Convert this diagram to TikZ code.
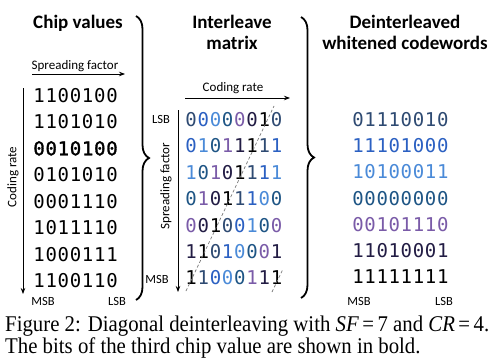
\documentclass[tikz,border=0pt]{standalone}
\usepackage{fontspec}
\setmainfont{Carlito}
\newfontfamily\capfont{Liberation Serif}
\newfontfamily\bitfont{DejaVu Sans Mono}
\newfontfamily\bitfontbold[FakeBold=1.6]{DejaVu Sans Mono}
\usetikzlibrary{arrows.meta,decorations.pathreplacing}
\definecolor{cw1}{HTML}{2E4A72}
\definecolor{cw2}{HTML}{2B60C2}
\definecolor{cw3}{HTML}{4A8AD8}
\definecolor{cw4}{HTML}{1E5585}
\definecolor{cw5}{HTML}{7A5BA8}
\definecolor{cw6}{HTML}{221C44}
\definecolor{cw7}{HTML}{000000}
\definecolor{dashgray}{HTML}{7A7A7A}
\begin{document}
\begin{tikzpicture}[x=1pt,y=-1pt,
  title/.style={font=\fontsize{19}{20}\selectfont\bfseries, inner sep=0, anchor=base},
  lab/.style={font=\fontsize{13}{14}\selectfont, inner sep=0},
  small/.style={font=\fontsize{12.5}{13}\selectfont, inner sep=0},
  bit/.style={inner sep=0, anchor=center},
  arr/.style={line width=0.8pt, -{Stealth[length=6pt,width=4.5pt]}},
  bracestyle/.style={line width=1.8pt, decorate, decoration={brace, amplitude=13pt, aspect=0.5}},
  diag/.style={dashgray, line width=0.7pt, dash pattern=on 3pt off 2.2pt},
  captext/.style={font=\capfont\fontsize{20.8}{22}\selectfont, inner sep=0, anchor=base west, yscale=1.08, transform shape}]
\useasboundingbox (0,0) rectangle (500,361);
\fill[white] (0,0) rectangle (500,361);

% titles
\node[title] (t1) at (78,29) {Chip values};
\node[title] (t2) at (232,29) {Interleave};
\node[title] (t3) at (232,50) {matrix};
\node[title] (t4) at (405,29) {Deinterleaved};
\node[title] (t5) at (405,50) {whitened codewords};

% braces
\coordinate (b1a) at (136,16);
\coordinate (b1b) at (136,300);
\coordinate (b2a) at (301,17);
\coordinate (b2b) at (301,298);
\draw[bracestyle] (b1a) -- (b1b);
\draw[bracestyle] (b2a) -- (b2b);

% chip values
\node[lab, anchor=base] (sf1) at (75,69) {Spreading factor};
\coordinate (sfa) at (32,74);
\coordinate (sfb) at (125,74);
\draw[arr] (sfa) -- (sfb);
\coordinate (cra) at (23,88);
\coordinate (crb) at (23,294);
\draw[arr] (cra) -- (crb);
\node[lab, rotate=90] (cr1) at (13,177) {Coding rate};
\foreach \row [count=\r] in {{1,1,0,0,1,0,0},{1,1,0,1,0,1,0},{0,0,1,0,1,0,0},{0,1,0,1,0,1,0},{0,0,0,1,1,1,0},{1,0,1,1,1,1,0},{1,0,0,0,1,1,1},{1,1,0,0,1,1,0}}{
  \foreach \b [count=\c] in \row {
    \pgfmathsetmacro\xx{33+12.15*(\c-0.5)}
    \pgfmathsetmacro\yy{95.5+26.45*(\r-1)}
    \ifnum\r=3 \def\wt{\bitfontbold}\else\def\wt{\bitfont}\fi
    \node[bit, font=\wt\fontsize{19}{20}\selectfont] (chip-\r-\c) at (\xx,\yy) {\b};
  }
}
\node[small] (msb1) at (43,301) {MSB};
\node[small] (lsb1) at (117,301) {LSB};

% interleave matrix
\node[lab, anchor=base] (cr2) at (233,91) {Coding rate};
\coordinate (cr2a) at (185,98);
\coordinate (cr2b) at (290,98);
\draw[arr] (cr2a) -- (cr2b);
\coordinate (sf2a) at (178,110);
\coordinate (sf2b) at (178,292);
\draw[arr] (sf2a) -- (sf2b);
\node[lab, rotate=90] (sf2) at (166,186) {Spreading factor};
\node[small] (lsb2) at (161,119) {LSB};
\node[small] (msb2) at (157,279) {MSB};
\foreach \row [count=\r] in {{0,0,0,0,0,0,1,0},{0,1,0,1,1,1,1,1},{1,0,1,0,1,1,1,1},{0,1,0,1,1,1,0,0},{0,0,1,0,0,1,0,0},{1,1,0,1,0,0,0,1},{1,1,0,0,0,1,1,1}}{
  \foreach \b [count=\c] in \row {
    \pgfmathsetmacro\xx{185+12.2*(\c-0.5)}
    \pgfmathsetmacro\yy{119.5+26.4*(\r-1)}
    \pgfmathtruncatemacro\k{mod(\r+\c-2,7)+1}
    \node[bit, text=cw\k, font=\bitfont\fontsize{19}{20}\selectfont] (mat-\r-\c) at (\xx,\yy) {\b};
  }
}
\coordinate (d1) at (186,291);
\coordinate (d2) at (274,106);
\coordinate (d3) at (272,292);
\coordinate (d4) at (283,269);
\draw[diag] (d1) -- (d2);
\draw[diag] (d3) -- (d4);

% deinterleaved codewords
\foreach \row [count=\r] in {{0,1,1,1,0,0,1,0},{1,1,1,0,1,0,0,0},{1,0,1,0,0,0,1,1},{0,0,0,0,0,0,0,0},{0,0,1,0,1,1,1,0},{1,1,0,1,0,0,0,1},{1,1,1,1,1,1,1,1}}{
  \foreach \b [count=\c] in \row {
    \pgfmathsetmacro\xx{352+12.1*(\c-0.5)}
    \pgfmathsetmacro\yy{119.5+26.2*(\r-1)}
    \node[bit, text=cw\r, font=\bitfont\fontsize{19}{20}\selectfont] (cw-\r-\c) at (\xx,\yy) {\b};
  }
}
\node[small] (msb3) at (359,301) {MSB};
\node[small] (lsb3) at (444,301) {LSB};

% caption
\node[captext] (c1) at (5,331) {Figure 2: Diagonal deinterleaving with \textit{SF}\,=\,7 and \textit{CR}\,=\,4.};
\node[captext] (c2) at (5,353) {The bits of the third chip value are shown in bold.};
\end{tikzpicture}
\end{document}
